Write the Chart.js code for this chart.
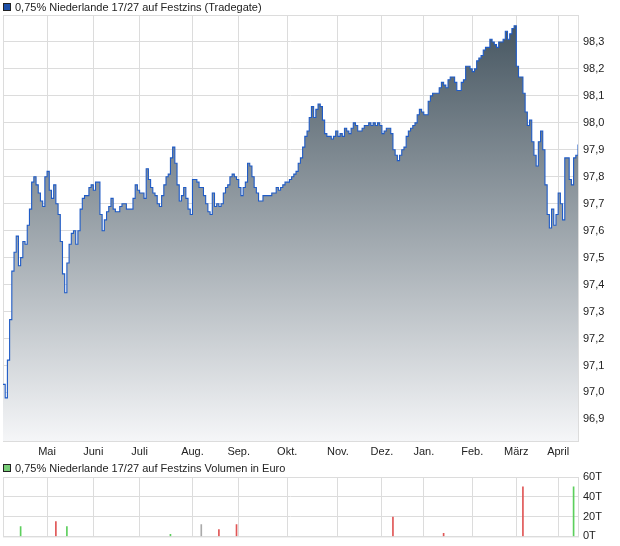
<!DOCTYPE html>
<html>
<head>
<meta charset="utf-8">
<script src="https://cdn.jsdelivr.net/npm/chart.js@4.4.1/dist/chart.umd.min.js"></script>
<style>
  body { margin: 0; background: #fff; font-family: "Liberation Sans", Arial, sans-serif; overflow: hidden; }
  #wrap { position: relative; width: 620px; height: 546px; overflow: hidden; }
  .legend { position: absolute; left: 3px; font-size: 11px; color: #222; white-space: nowrap; line-height: 14px; }
  .legend i { display: inline-block; width: 6px; height: 6px; border: 1px solid #222; margin-right: 4px; vertical-align: 0px; }
  #priceBox { position: absolute; left: 0; top: 0; width: 620px; height: 460px; }
  #volBox { position: absolute; left: 0; top: 460px; width: 620px; height: 88px; }
</style>
</head>
<body>
<div id="wrap">
  <div id="priceBox"><canvas id="priceChart" width="620" height="460"></canvas></div>
  <div id="volBox"><canvas id="volChart" width="620" height="88"></canvas></div>
  <div class="legend" style="top:0px"><i style="background:#1d4fa8"></i>0,75% Niederlande 17/27 auf Festzins (Tradegate)</div>
  <div class="legend" style="top:461px"><i style="background:#77cc77"></i>0,75% Niederlande 17/27 auf Festzins Volumen in Euro</div>
</div>
<script>
// month labels and the trading-day index where each month starts
const months = ["Mai", "Juni", "Juli", "Aug.", "Sep.", "Okt.", "Nov.", "Dez.", "Jan.", "Feb.", "März", "April"];
const monthIdx = [20, 41, 62, 86, 107, 129, 152, 172, 191, 213, 233, 252];

const yTicks = [96.9, 97.0, 97.1, 97.2, 97.3, 97.4, 97.5, 97.6, 97.7, 97.8, 97.9, 98.0, 98.1, 98.2, 98.3];
const volTicks = [0, 20, 40, 60];

// daily prices (one per trading day)
const prices = [
  97.03, 96.98, 97.12, 97.27, 97.45, 97.52, 97.58, 97.47, 97.50, 97.56,
  97.55, 97.62, 97.68, 97.78, 97.80, 97.77, 97.74, 97.71, 97.69, 97.80,
  97.82, 97.75, 97.72, 97.77, 97.70, 97.66, 97.56, 97.44, 97.37, 97.48,
  97.55, 97.59, 97.60, 97.55, 97.60, 97.68, 97.72, 97.73, 97.73, 97.76,
  97.77, 97.75, 97.78, 97.78, 97.66, 97.60, 97.64, 97.67, 97.69, 97.72,
  97.68, 97.67, 97.67, 97.69, 97.70, 97.70, 97.68, 97.68, 97.68, 97.72,
  97.77, 97.75, 97.74, 97.74, 97.72, 97.83, 97.79, 97.76, 97.74, 97.73,
  97.70, 97.69, 97.73, 97.77, 97.80, 97.81, 97.87, 97.91, 97.85, 97.77,
  97.71, 97.73, 97.76, 97.72, 97.68, 97.66, 97.79, 97.79, 97.78, 97.76,
  97.76, 97.73, 97.70, 97.67, 97.66, 97.74, 97.69, 97.70, 97.69, 97.70,
  97.74, 97.76, 97.77, 97.80, 97.81, 97.80, 97.79, 97.76, 97.73, 97.76,
  97.78, 97.85, 97.84, 97.80, 97.76, 97.74, 97.71, 97.71, 97.73, 97.73,
  97.73, 97.73, 97.74, 97.74, 97.76, 97.75, 97.76, 97.77, 97.78, 97.78,
  97.79, 97.80, 97.81, 97.82, 97.85, 97.87, 97.91, 97.95, 97.97, 98.02,
  98.06, 98.02, 98.05, 98.07, 98.06, 98.01, 97.96, 97.95, 97.95, 97.94,
  97.95, 97.97, 97.95, 97.96, 97.95, 97.98, 97.97, 97.96, 97.98, 98.00,
  97.99, 97.97, 97.97, 97.98, 97.99, 97.99, 98.00, 97.99, 98.00, 97.99,
  98.00, 97.99, 97.96, 97.97, 97.98, 97.98, 97.96, 97.90, 97.88, 97.86,
  97.88, 97.90, 97.91, 97.95, 97.97, 97.98, 97.99, 98.00, 98.03, 98.05,
  98.04, 98.03, 98.03, 98.08, 98.10, 98.11, 98.11, 98.11, 98.13, 98.15,
  98.14, 98.13, 98.16, 98.17, 98.17, 98.15, 98.12, 98.12, 98.15, 98.16,
  98.21, 98.21, 98.20, 98.19, 98.20, 98.23, 98.24, 98.25, 98.27, 98.28,
  98.28, 98.31, 98.30, 98.29, 98.28, 98.30, 98.30, 98.31, 98.34, 98.31,
  98.33, 98.35, 98.36, 98.21, 98.17, 98.17, 98.11, 98.04, 97.99, 98.01,
  97.93, 97.88, 97.84, 97.93, 97.97, 97.90, 97.77, 97.66, 97.61, 97.68,
  97.62, 97.66, 97.74, 97.70, 97.64, 97.87, 97.87, 97.79, 97.77, 97.87,
  97.88, 97.92
];

// volume in thousand euro, only on days with trades
const volIdx = [8, 24, 29, 76, 90, 98, 106, 177, 200, 236, 259];
const volAmt = [10, 15, 10, 2, 12, 7, 12, 19.5, 3, 50, 50];

const lastIdx = prices.length - 1;
const gridColor = "#dcdcdc";
const tickFont = { family: "Liberation Sans, Arial, sans-serif", size: 11 };

// frame around the plot area (top and left edges are not drawn by the axes)
const framePlugin = {
  id: "frame",
  beforeDatasetsDraw(chart) {
    const { ctx, chartArea: a } = chart;
    ctx.save();
    ctx.strokeStyle = gridColor;
    ctx.lineWidth = 1;
    ctx.strokeRect(a.left + 0.5, a.top + 0.5, a.right - a.left, a.bottom - a.top);
    ctx.restore();
  }
};

function monthAxis(showLabels) {
  return {
    type: "linear",
    min: 0,
    max: lastIdx,
    offset: false,
    afterBuildTicks: (scale) => { scale.ticks = monthIdx.map(v => ({ value: v })); },
    afterFit: (scale) => { scale.height = showLabels ? 19 : 0; },
    grid: { color: gridColor, drawTicks: false, offset: false },
    border: { display: false },
    ticks: {
      display: showLabels,
      padding: 4,
      color: "#222",
      font: tickFont,
      maxRotation: 0,
      autoSkip: false,
      callback: (v) => months[monthIdx.indexOf(v)]
    }
  };
}

new Chart(document.getElementById("priceChart"), {
  type: "line",
  data: {
    datasets: [{
      data: prices.map((p, i) => ({ x: i, y: p })),
      borderColor: "#1f5bc6",
      borderWidth: 1.1,
      pointRadius: 0,
      stepped: true,
      fill: "start",
      backgroundColor: (c) => {
        const a = c.chart.chartArea;
        if (!a) return "#999";
        const g = c.chart.ctx.createLinearGradient(0, a.top, 0, a.bottom);
        g.addColorStop(0, "#43535e");
        g.addColorStop(1, "#f5f6f8");
        return g;
      }
    }]
  },
  options: {
    responsive: false,
    animation: false,
    layout: { padding: { left: 3, top: 15, right: 0, bottom: 0 } },
    plugins: { legend: { display: false }, tooltip: { enabled: false } },
    scales: {
      x: monthAxis(true),
      y: {
        position: "right",
        min: 96.82,
        max: 98.4,
        afterBuildTicks: (scale) => { scale.ticks = yTicks.map(v => ({ value: v })); },
        afterFit: (scale) => { scale.width = 42; },
        grid: { color: gridColor, drawTicks: false },
        border: { display: false },
        ticks: {
          padding: 5,
          color: "#222",
          font: tickFont,
          callback: (v) => v.toFixed(1).replace(".", ",")
        }
      }
    }
  },
  plugins: [framePlugin]
});

new Chart(document.getElementById("volChart"), {
  type: "bar",
  data: {
    datasets: [{
      data: volIdx.map((d, k) => ({ x: d, y: volAmt[k] })),
      barThickness: 1,
      backgroundColor: volIdx.map(d => {
        const diff = prices[d] - prices[d - 1];
        if (Math.abs(diff) < 1e-9) return "#aaaaaa";
        return diff > 0 ? "#5ccf5c" : "#e05656";
      })
    }]
  },
  options: {
    responsive: false,
    animation: false,
    layout: { padding: { left: 3, top: 17, right: 0, bottom: 5 } },
    plugins: { legend: { display: false }, tooltip: { enabled: false } },
    scales: {
      x: monthAxis(false),
      y: {
        position: "right",
        min: 0,
        max: 60,
        afterBuildTicks: (scale) => { scale.ticks = volTicks.map(v => ({ value: v })); },
        afterFit: (scale) => { scale.width = 42; },
        grid: { color: gridColor, drawTicks: false },
        border: { display: false },
        ticks: {
          padding: 5,
          color: "#222",
          font: tickFont,
          callback: (v) => v + "T"
        }
      }
    }
  },
  plugins: [framePlugin]
});
</script>
</body>
</html>
